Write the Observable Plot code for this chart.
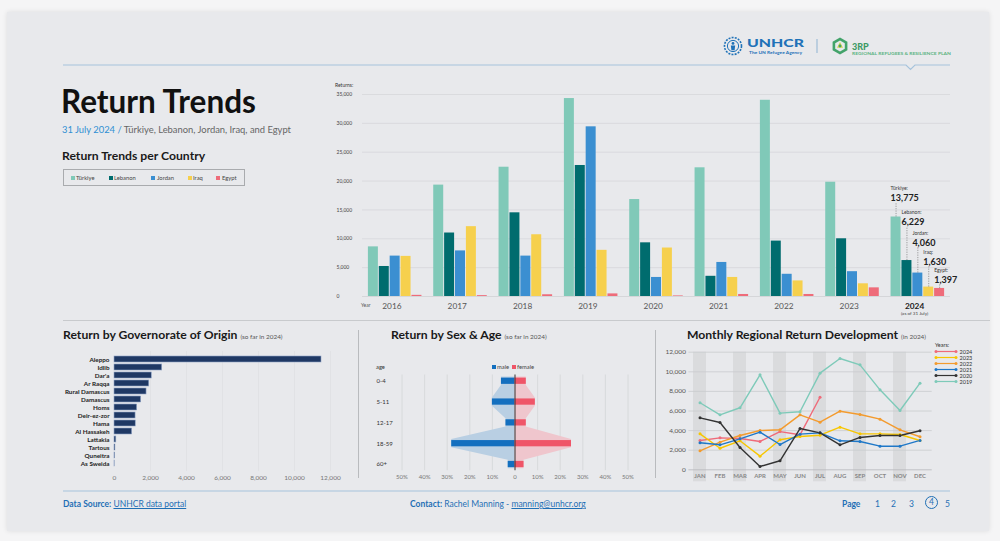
<!DOCTYPE html>
<html><head><meta charset="utf-8">
<script src="https://cdn.jsdelivr.net/npm/d3@7"></script>
<script src="https://cdn.jsdelivr.net/npm/@observablehq/plot@0.6"></script>
<style>
html,body{margin:0;padding:0;}
body{width:1000px;height:541px;background:#f5f5f6;position:relative;overflow:hidden;font-family:Lato,"Open Sans",sans-serif;}
#card{position:absolute;left:7px;top:12px;width:982px;height:519px;background:#e8e9ec;box-shadow:0 0 5px rgba(0,0,0,0.10);}
.t{position:absolute;line-height:1;white-space:nowrap;}
.chart{position:absolute;}
.chart svg{overflow:visible;}
.h2{font-size:12.2px;font-weight:700;color:#1a1a1a;}
.h2 small{font-size:6.4px;font-weight:400;color:#555;}
.lg{position:absolute;left:63px;top:169px;width:180px;height:15px;border:1px solid #a9abae;}
.lg span{position:absolute;top:5px;font-size:5.8px;color:#444;line-height:1;}
.lg i{position:absolute;top:6px;width:4px;height:4px;}
.foot{font-size:8.5px;color:#1f6fb5;}
.foot b{font-weight:700;}
.foot u{text-decoration:underline;}
</style></head><body>
<div id="card"></div>

<!-- header -->
<svg class="chart" style="left:0;top:0" width="1000" height="80">
  <g transform="translate(733,46)" fill="none" stroke="#1f72b8">
    <circle r="8.5" stroke-width="1.6" stroke-dasharray="2 1.2"/>
    <circle r="5.6" stroke-width="1"/>
    <circle cx="0" cy="-2.6" r="1.4" fill="#1f72b8" stroke="none"/>
    <path d="M-2.2,-0.6 L2.2,-0.6 L1.6,4.2 L-1.6,4.2 Z" fill="#1f72b8" stroke="none"/>
  </g>
  <text x="747" y="47" fill="#1f72b8" font-family="Lato" font-weight="900" font-size="11" textLength="57" lengthAdjust="spacingAndGlyphs">UNHCR</text>
  <text x="749" y="54" fill="#1f72b8" font-family="Lato" font-weight="700" font-size="4.2" textLength="53" lengthAdjust="spacingAndGlyphs">The UN Refugee Agency</text>
  <line x1="817" x2="817" y1="39" y2="53" stroke="#8fb3d2" stroke-width="1"/>
  <g transform="translate(840,46)">
    <path d="M0,-8.5 L7.4,-4.25 L7.4,4.25 L0,8.5 L-7.4,4.25 L-7.4,-4.25 Z" fill="#43a36a"/>
    <path d="M0,-5.5 L4.8,-2.75 L4.8,2.75 L0,5.5 L-4.8,2.75 L-4.8,-2.75 Z" fill="#e8e9ec"/>
    <path d="M0,-4 L3,1.8 L-3,1.8 Z" fill="#cfd64a"/>
    <circle r="1.4" fill="#43a36a"/>
  </g>
  <text x="852" y="50" fill="#3c9a64" font-family="Lato" font-weight="900" font-size="9">3RP</text>
  <text x="852" y="55" fill="#5db483" font-family="Lato" font-weight="700" font-size="4" textLength="99" lengthAdjust="spacingAndGlyphs">REGIONAL REFUGEES &amp; RESILIENCE PLAN</text>
  <polyline points="63,65 906,65 910.5,69.5 915,65 950,65" fill="none" stroke="#a6c3dc" stroke-width="1.2"/>
</svg>

<!-- title block -->
<div class="t" style="left:61px;top:85.5px;font-size:31.5px;font-weight:700;color:#111;">Return Trends</div>
<div class="t" style="left:62px;top:124.5px;font-size:9.4px;color:#666;"><span style="color:#2f8fd3">31 July 2024 /</span> Türkiye, Lebanon, Jordan, Iraq, and Egypt</div>
<div class="t h2" style="left:62px;top:150px;">Return Trends per Country</div>
<div class="lg" id="legend"></div>

<!-- main chart -->
<div class="chart" id="main" style="left:330px;top:80px;"></div>
<div class="t" style="left:335px;top:82.5px;font-size:5px;color:#333;">Returns:</div>
<div class="t" style="left:361px;top:302.5px;font-size:5px;color:#555;">Year</div>

<!-- separators -->
<svg class="chart" style="left:0;top:0" width="1000" height="541">
  <line x1="63" x2="990" y1="320.5" y2="320.5" stroke="#c8cacd" stroke-width="1"/>
  <line x1="358.5" x2="358.5" y1="330" y2="478" stroke="#b9bbbe" stroke-width="1"/>
  <line x1="655.5" x2="655.5" y1="330" y2="478" stroke="#b9bbbe" stroke-width="1"/>
  <line x1="63" x2="950" y1="491" y2="491" stroke="#a6c3dc" stroke-width="1.2"/>
</svg>

<!-- bottom titles -->
<div class="t h2" style="left:63px;top:329.3px;">Return by Governorate of Origin <small>(so far in 2024)</small></div>
<div class="t h2" style="left:391px;top:329.3px;">Return by Sex &amp; Age <small>(so far in 2024)</small></div>
<div class="t h2" style="left:687px;top:329.3px;">Monthly Regional Return Development <small>(in 2024)</small></div>

<div class="chart" id="gov" style="left:55px;top:340px;"></div>
<div class="chart" id="sex" style="left:360px;top:355px;"></div>
<div class="t" style="left:376px;top:364px;font-size:5.8px;color:#333;">age</div>
<div class="t" style="left:492px;top:363.5px;font-size:5.8px;color:#444;"><i style="display:inline-block;width:4px;height:4px;background:#136fbf;margin-right:1px"></i>male&nbsp;&nbsp;<i style="display:inline-block;width:4px;height:4px;background:#ef5568;margin-right:1px"></i>female</div>
<div class="chart" id="month" style="left:655px;top:340px;"></div>
<div class="t" style="left:935px;top:343px;font-size:5.5px;color:#333;">Years:</div>
<svg class="chart" id="ylegend" style="left:930px;top:347px" width="60" height="40"></svg>

<!-- footer -->
<div class="t foot" style="left:63px;top:500px;"><b>Data Source:</b> <u>UNHCR data portal</u></div>
<div class="t foot" style="left:410px;top:500px;"><b>Contact:</b> Rachel Manning - <u>manning@unhcr.org</u></div>
<div class="t foot" style="left:842px;top:500px;"><b>Page</b></div>
<div class="t foot" style="left:875px;top:500px;">1</div>
<div class="t foot" style="left:891px;top:500px;">2</div>
<div class="t foot" style="left:909px;top:500px;">3</div>
<div class="t foot" style="left:925px;top:496px;width:11px;height:11px;border:1px solid #1f6fb5;border-radius:50%;text-align:center;line-height:11px;">4</div>
<div class="t foot" style="left:945px;top:500px;">5</div>

<script>
// ---------------- DATA ----------------
const years = ["2016","2017","2018","2019","2020","2021","2022","2023","2024"];
const countries = ["Türkiye","Lebanon","Jordan","Iraq","Egypt"];
const turkiye = [8600,19300,22400,34300,16800,22300,34000,19800,13775];
const lebanon = [5200,11000,14500,22700,9300,3500,9600,10000,6229];
const jordan  = [7000,7900,7000,29400,3300,5900,3850,4300,4060];
const iraq    = [6950,12100,10700,8000,8400,3300,2700,2200,1630];
const egypt   = [200,150,300,450,100,350,350,1500,1397];
const yTicks = [0,5000,10000,15000,20000,25000,30000,35000];

const govs = ["Aleppo","Idlib","Dar'a","Ar Raqqa","Rural Damascus","Damascus","Homs","Deir-ez-zor","Hama","Al Hassakeh","Lattakia","Tartous","Quneitra","As Sweida"];
const govValues = [11500,2650,2070,1930,1780,1480,1260,1170,1180,980,100,50,30,10];
const govTicks = [0,2000,4000,6000,8000,10000,12000];

const ages = ["0-4","5-11","12-17","18-59","60+"];
const male = [6,10,4,28,3];
const female = [5,9,5,25,4];
const pctTicks = [-50,-40,-30,-20,-10,0,10,20,30,40,50];

const months = ["JAN","FEB","MAR","APR","MAY","JUN","JUL","AUG","SEP","OCT","NOV","DEC"];
const lineYears = ["2024","2023","2022","2021","2020","2019"];
const m2024 = [2990,3260,3200,2890,3900,3570,7400];
const m2023 = [3670,2200,2960,1390,3060,3400,3530,4350,3670,3670,3600,2990];
const m2022 = [1940,2820,3500,4010,4080,5610,4860,5980,5640,5170,4080,3370];
const m2021 = [2760,2550,3160,3840,2580,3640,3770,2960,2890,2410,2410,3000];
const m2020 = [5300,4830,2280,340,920,4210,3770,2550,3300,3500,3500,3980];
const m2019 = [6840,5610,6330,9690,5780,5920,9860,11360,10710,8160,6050,8840];
const monthTicks = [0,2000,4000,6000,8000,10000,12000];

// ---------------- STYLE ----------------
const countryColors = ["#80c9b8","#006c6e","#3b8fd1","#f6d04d","#ee6c7a"];
const yearColors = ["#ef6b7a","#f7c600","#f39b2e","#1f78c8","#333333","#7ecab9"];
const baseStyle = {fontFamily:"Lato", background:"transparent", overflow:"visible"};

// legend (HTML)
const lgPos = [[7,12],[45,50],[87,93],[124,129],[152,158]];
const lg = document.getElementById("legend");
countries.forEach((c,i)=>{
  const sq=document.createElement("i"); sq.style.left=lgPos[i][0]+"px"; sq.style.background=countryColors[i]; lg.appendChild(sq);
  const s=document.createElement("span"); s.style.left=lgPos[i][1]+"px"; s.textContent=c; lg.appendChild(s);
});

// ---------------- MAIN BAR CHART ----------------
const series = [turkiye, lebanon, jordan, iraq, egypt];
const bars = years.flatMap((yr, yi) => countries.map((c, ci) => ({year: yr, yi, country: c, ci, value: series[ci][yi]})));
const SLOTS = 6;
const slot = d => d.yi * SLOTS + d.ci;
const MW = 660, MH = 240, mt = 14, mb = 24, ml = 32, mr = 40;
const yS = Plot.scale({y: {domain: [0, 35000], range: [MH - mb, mt]}});
const ann = bars.filter(d => d.year === "2024");
const annLabelPx = [108.3, 132, 153, 172, 190];   // layout: staircase of callouts (svg px)
const annValuePx = annLabelPx.map(p => p + 9.5);
const yearRows = years.map((y, i) => ({year: y, i}));

const main = Plot.plot({
  width: MW, height: MH, marginTop: mt, marginBottom: mb, marginLeft: ml, marginRight: mr,
  style: baseStyle,
  x: {domain: [-0.5, years.length * SLOTS - 0.5], axis: null},
  y: {domain: [0, 35000], axis: null},
  color: {domain: countries, range: countryColors},
  marks: [
    Plot.gridY(yTicks.slice(1), {stroke: "#d5d7da", strokeOpacity: 1, strokeWidth: 0.8}),
    Plot.ruleY([0], {stroke: "#cfd1d4", strokeWidth: 0.8}),
    Plot.axisY(yTicks, {label: null, tickSize: 0, tickPadding: 26, textAnchor: "start", fontSize: 5, fill: "#444", tickFormat: d3.format(",")}),
    Plot.rectY(bars, {x1: slot, x2: d => slot(d) + 1, y1: 0, y2: "value", fill: "country", insetLeft: 0.45, insetRight: 0.45}),
    Plot.text(yearRows.filter(d => d.year !== "2024"), {x: d => d.i * SLOTS + 2.2, y: 0, dy: 9.5, text: "year", fontSize: 8.3, fill: "#555"}),
    Plot.text(yearRows.filter(d => d.year === "2024"), {x: d => d.i * SLOTS + 2.2, y: 0, dy: 9.5, text: "year", fontSize: 8.3, fontWeight: 700, fill: "#222"}),
    Plot.text(yearRows.filter(d => d.year === "2024"), {x: d => d.i * SLOTS + 2.2, y: 0, dy: 17.5, text: () => "(as of 31 July)", fontSize: 4.6, fill: "#444"}),
    Plot.ruleX(ann, {x: d => slot(d) + 0.5, y1: "value", y2: (d, i) => yS.invert(annValuePx[i] + 5), stroke: "#666", strokeWidth: 0.6, strokeDasharray: "1.2,1.2"}),
    Plot.text(ann, {x: slot, y: (d, i) => yS.invert(annLabelPx[i]), text: d => d.country + ":", textAnchor: "start", fontSize: 5, fill: "#333"}),
    Plot.text(ann, {x: slot, y: (d, i) => yS.invert(annValuePx[i]), text: d => d3.format(",")(d.value), textAnchor: "start", fontSize: 9, fontWeight: 700, fill: "#222"})
  ]
});
document.getElementById("main").appendChild(main);

// ---------------- GOVERNORATE ----------------
const govData = govs.map((g, i) => ({gov: g, value: govValues[i]}));
const gov = Plot.plot({
  width: 290, height: 145, marginTop: 11, marginBottom: 14, marginLeft: 59, marginRight: 15,
  style: baseStyle,
  x: {domain: [0, 12000], axis: null},
  y: {domain: govs, padding: 0.25, axis: null},
  marks: [
    Plot.gridX(govTicks.slice(1), {stroke: "#dcdde0", strokeOpacity: 1, strokeWidth: 0.6}),
    Plot.axisX(govTicks, {label: null, tickSize: 0, tickPadding: 4, fontSize: 6.5, fill: "#777", tickFormat: d3.format(",")}),
    Plot.axisY(govs, {label: null, tickSize: 0, tickPadding: 5, fontSize: 6.3, fontWeight: 700, fill: "#222"}),
    Plot.barX(govData, {y: "gov", x: "value", fill: "#1f3864", stroke: "#8fa4c6", strokeWidth: 0.6})
  ]
});
document.getElementById("gov").appendChild(gov);

// ---------------- SEX & AGE ----------------
const half = 0.2;
const maleArea = ages.flatMap((a, i) => [{y: i - half, v: -male[i]}, {y: i + half, v: -male[i]}]);
const femaleArea = ages.flatMap((a, i) => [{y: i - half, v: female[i]}, {y: i + half, v: female[i]}]);
const ageRows = ages.map((a, i) => ({age: a, i, m: male[i], f: female[i]}));
const sex = Plot.plot({
  width: 290, height: 130, marginTop: 19.5, marginBottom: 14.75, marginLeft: 41.5, marginRight: 22.5,
  style: baseStyle,
  x: {domain: [-50, 50], axis: null},
  y: {domain: [-0.3, 4.3], reverse: true, axis: null},
  marks: [
    Plot.gridX(pctTicks.filter(d => d !== 0), {stroke: "#d3d5d8", strokeOpacity: 1, strokeWidth: 0.8}),
    Plot.axisX(pctTicks, {label: null, tickSize: 0, tickPadding: 4, fontSize: 6, fill: "#777", tickFormat: d => d === 0 ? "0" : Math.abs(d) + "%"}),
    Plot.areaX(maleArea, {y: "y", x1: 0, x2: "v", fill: "#b9cfe3", fillOpacity: 1}),
    Plot.areaX(femaleArea, {y: "y", x1: 0, x2: "v", fill: "#efc6cd", fillOpacity: 1}),
    Plot.rectX(ageRows, {y1: d => d.i - 0.15, y2: d => d.i + 0.15, x1: 0, x2: d => -d.m, fill: "#136fbf"}),
    Plot.rectX(ageRows, {y1: d => d.i - 0.15, y2: d => d.i + 0.15, x1: 0, x2: "f", fill: "#ef5568"}),
    Plot.ruleX([0], {stroke: "#333", strokeWidth: 1}),
    Plot.text(ageRows, {frameAnchor: "left", y: "i", text: "age", textAnchor: "start", dx: -25.5, fontSize: 6, fill: "#333"})
  ]
});
document.getElementById("sex").appendChild(sex);

// ---------------- MONTHLY ----------------
const monthSeries = [m2024, m2023, m2022, m2021, m2020, m2019];
const monthData = lineYears.flatMap((yr, k) => monthSeries[k].map((v, i) => ({year: yr, month: months[i], value: v})));
const shaded = months.filter((m, i) => i % 2 === 0);
const month = Plot.plot({
  width: 335, height: 145, marginTop: 11.7, marginBottom: 15.7, marginLeft: 33.4, marginRight: 58.3,
  style: baseStyle,
  x: {domain: months, paddingInner: 0.33, paddingOuter: 0.1, axis: null},
  y: {domain: [0, 12000], axis: null},
  color: {domain: lineYears, range: yearColors},
  marks: [
    Plot.barY(shaded, {x: d => d, y1: 0, y2: 12000, fill: "#dadbdd", insetBottom: -12}),
    Plot.gridY(monthTicks.slice(1), {stroke: "#c9cbce", strokeOpacity: 1, strokeWidth: 0.8}),
    Plot.ruleY([0], {stroke: "#b5b7ba", strokeWidth: 0.8}),
    Plot.axisY(monthTicks, {label: null, tickSize: 0, tickPadding: 3, fontSize: 6.5, fill: "#555", tickFormat: d3.format(",")}),
    Plot.axisX(months, {label: null, tickSize: 0, tickPadding: 4, fontSize: 6, fontWeight: 700, fill: "#888"}),
    Plot.line(monthData, {x: "month", y: "value", z: "year", stroke: "year", strokeWidth: 1.4}),
    Plot.dot(monthData, {x: "month", y: "value", fill: "year", r: 1.5})
  ]
});
document.getElementById("month").appendChild(month);

// year legend for monthly chart
const yl = d3.select("#ylegend");
lineYears.forEach((y, k) => {
  const cy = 4.5 + k * 6;
  yl.append("line").attr("x1", 5).attr("x2", 27).attr("y1", cy).attr("y2", cy).attr("stroke", yearColors[k]).attr("stroke-width", 1.2);
  yl.append("circle").attr("cx", 6).attr("cy", cy).attr("r", 1.5).attr("fill", yearColors[k]);
  yl.append("circle").attr("cx", 26).attr("cy", cy).attr("r", 1.5).attr("fill", yearColors[k]);
  yl.append("text").attr("x", 29.5).attr("y", cy + 2).attr("font-size", 5.5).attr("font-family", "Lato").attr("fill", "#333").text(y);
});
</script>
</body></html>
